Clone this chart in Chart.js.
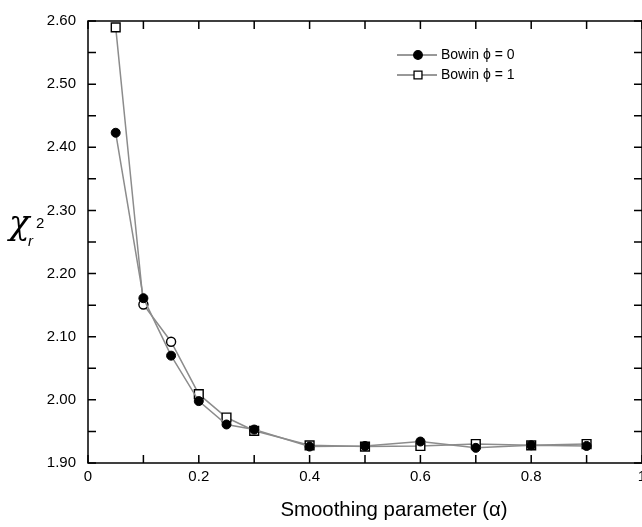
<!DOCTYPE html>
<html>
<head>
<meta charset="utf-8">
<script src="https://cdn.jsdelivr.net/npm/chart.js@4.4.1/dist/chart.umd.min.js"></script>
<style>
  html, body { margin: 0; padding: 0; background: #fff; overflow: hidden; }
  #wrap { position: relative; width: 642px; height: 527px; overflow: hidden; }
  #chart { position: absolute; left: 0; top: 0; }
  .ytitle { position: absolute; font-family: "Liberation Sans", sans-serif; color: #000; line-height: 1; white-space: nowrap; }
</style>
</head>
<body>
<div id="wrap">
  <canvas id="chart" width="680" height="527" style="width:680px;height:527px"></canvas>
  <span class="ytitle" style="left:9px;top:205px;font-size:34px;font-style:italic;font-family:'DejaVu Serif',serif">χ</span>
  <span class="ytitle" style="left:28px;top:233px;font-size:15px;font-style:italic">r</span>
  <span class="ytitle" style="left:36px;top:215px;font-size:15px">2</span>
</div>
<script>
// smoothing parameter values
const alphas = [0.05, 0.1, 0.15, 0.2, 0.25, 0.3, 0.4, 0.5, 0.6, 0.7, 0.8, 0.9];
// reduced chi-square, Bowin phi = 0
const chiPhi0 = [2.423, 2.161, 2.070, 1.998, 1.961, 1.953, 1.926, 1.927, 1.934, 1.924, 1.928, 1.927];
// reduced chi-square, Bowin phi = 1
const chiPhi1 = [2.590, 2.151, 2.092, 2.009, 1.972, 1.951, 1.928, 1.926, 1.927, 1.930, 1.928, 1.930];
const phi1Markers = ['rect', 'circle', 'circle', 'rect', 'rect', 'rect', 'rect', 'rect', 'rect', 'rect', 'rect', 'rect'];

const seriesNames = ['Bowin \u03D5 = 0', 'Bowin \u03D5 = 1'];
const xTicks = [0, 0.2, 0.4, 0.6, 0.8, 1];
const yTicks = [1.9, 2.0, 2.1, 2.2, 2.3, 2.4, 2.5, 2.6];
const xTitle = 'Smoothing parameter (\u03B1)';

const FONT = '"Liberation Sans", Arial, Helvetica, sans-serif';
const LINE = '#8c8c8c';

function toPoints(ys) {
  return alphas.map((a, i) => ({x: a, y: ys[i]}));
}

// frame, inward ticks, x title and the legend
const framePlugin = {
  id: 'frame',
  afterDraw(chart) {
    const {ctx, chartArea: area, scales: {x, y}} = chart;
    ctx.save();
    ctx.strokeStyle = '#000';
    ctx.lineWidth = 1.5;
    ctx.strokeRect(area.left, area.top, area.right - area.left, area.bottom - area.top);

    const len = 8;
    ctx.beginPath();
    for (let v = 0; v <= 10; v++) {
      const px = x.getPixelForValue(v / 10);
      ctx.moveTo(px, area.bottom);
      ctx.lineTo(px, area.bottom - len);
      ctx.moveTo(px, area.top);
      ctx.lineTo(px, area.top + len);
    }
    for (let v = 0; v <= 14; v++) {
      const py = y.getPixelForValue(1.9 + v * 0.05);
      ctx.moveTo(area.left, py);
      ctx.lineTo(area.left + len, py);
      ctx.moveTo(area.right, py);
      ctx.lineTo(area.right - len, py);
    }
    ctx.stroke();

    // axis title sits off-centre, the figure was cropped on the right
    ctx.fillStyle = '#000';
    ctx.font = '20.4px ' + FONT;
    ctx.textAlign = 'center';
    ctx.textBaseline = 'alphabetic';
    ctx.fillText(xTitle, 394, 516);

    // legend
    const rows = [
      {style: 'circle', radius: 4.3, fill: '#000'},
      {style: 'rect', radius: 5.6, fill: '#fff'}
    ];
    ctx.font = '14px ' + FONT;
    ctx.textAlign = 'left';
    ctx.textBaseline = 'middle';
    rows.forEach((row, i) => {
      const ly = 55 + i * 20;
      ctx.strokeStyle = '#333';
      ctx.lineWidth = 1;
      ctx.beginPath();
      ctx.moveTo(397, ly);
      ctx.lineTo(437, ly);
      ctx.stroke();
      ctx.fillStyle = row.fill;
      ctx.strokeStyle = '#000';
      ctx.lineWidth = 1.3;
      Chart.helpers.drawPoint(ctx, {pointStyle: row.style, radius: row.radius, borderWidth: 1.3}, 418, ly);
      ctx.fillStyle = '#000';
      ctx.fillText(seriesNames[i], 441, ly);
    });
    ctx.restore();
  }
};

new Chart(document.getElementById('chart'), {
  type: 'scatter',
  data: {
    datasets: [
      {
        label: seriesNames[0],
        data: toPoints(chiPhi0),
        showLine: true,
        borderColor: LINE,
        borderWidth: 1.5,
        pointStyle: 'circle',
        pointRadius: 4.5,
        pointBackgroundColor: '#000',
        pointBorderColor: '#000',
        pointBorderWidth: 1,
        tension: 0
      },
      {
        label: seriesNames[1],
        data: toPoints(chiPhi1),
        showLine: true,
        borderColor: LINE,
        borderWidth: 1.5,
        pointStyle: phi1Markers,
        pointRadius: phi1Markers.map(m => m === 'rect' ? 6.2 : 4.5),
        pointBackgroundColor: '#fff',
        pointBorderColor: '#000',
        pointBorderWidth: 1.4,
        tension: 0
      }
    ]
  },
  options: {
    responsive: false,
    animation: false,
    layout: {
      padding: {left: 0, right: 38, top: 16, bottom: 0}
    },
    plugins: {
      legend: {display: false},
      tooltip: {enabled: false}
    },
    scales: {
      x: {
        type: 'linear',
        min: 0,
        max: 1,
        afterFit(scale) { scale.height = 64; },
        afterBuildTicks(scale) { scale.ticks = xTicks.map(v => ({value: v})); },
        grid: {display: false, drawTicks: false},
        border: {display: false},
        ticks: {
          padding: 5,
          color: '#000',
          font: {family: FONT, size: 15},
          callback: v => String(v)
        }
      },
      y: {
        min: 1.9,
        max: 2.6,
        afterFit(scale) { scale.width = 88; },
        afterBuildTicks(scale) { scale.ticks = yTicks.map(v => ({value: v})); },
        grid: {display: false, drawTicks: false},
        border: {display: false},
        ticks: {
          padding: 12,
          color: '#000',
          font: {family: FONT, size: 15},
          callback: v => v.toFixed(2)
        }
      }
    }
  },
  plugins: [framePlugin]
});
</script>
</body>
</html>
